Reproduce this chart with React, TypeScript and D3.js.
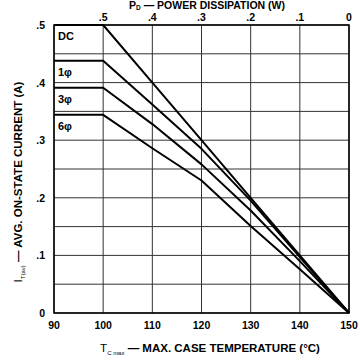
import React from "react";
import * as d3 from "d3";

const temps = [100, 110, 120, 130, 140, 150];
const dcValues = [0.5, 0.4, 0.3, 0.2, 0.1, 0];
const phase1Values = [0.438, 0.362, 0.285, 0.195, 0.097, 0];
const phase3Values = [0.391, 0.328, 0.258, 0.178, 0.09, 0];
const phase6Values = [0.344, 0.286, 0.23, 0.151, 0.076, 0];
const startTemp = 90;
const seriesNames = ["DC", "1\u03C6", "3\u03C6", "6\u03C6"];
const xTicks = [90, 100, 110, 120, 130, 140, 150];
const yTicks = [0, 0.1, 0.2, 0.3, 0.4, 0.5];
const yTickLabels = ["0", ".1", ".2", ".3", ".4", ".5"];
const yGrid = [0, 0.05, 0.1, 0.15, 0.2, 0.25, 0.3, 0.35, 0.4, 0.45, 0.5];
const topTicks = [0.5, 0.4, 0.3, 0.2, 0.1, 0];
const topTickLabels = [".5", ".4", ".3", ".2", ".1", "0"];

export default function App() {
  const left = 54, right = 349, top = 25, bottom = 313;
  const x = d3.scaleLinear().domain([90, 150]).range([left, right]);
  const y = d3.scaleLinear().domain([0, 0.5]).range([bottom, top]);
  const xp = d3.scaleLinear().domain([0.5, 0]).range([x(100), x(150)]);

  const allSeries = [dcValues, phase1Values, phase3Values, phase6Values];
  const line = d3
    .line<[number, number]>()
    .x((d) => x(d[0]))
    .y((d) => y(d[1]));

  const font = "'Liberation Sans', Arial, sans-serif";

  return (
    <svg
      width={360}
      height={360}
      style={{ position: "absolute", left: 0, top: 0, background: "#fff" }}
      fontFamily={font}
      fontWeight="bold"
    >
      <rect x={0} y={0} width={360} height={360} fill="#fff" />
      {/* grid */}
      {xTicks.map((t) => (
        <line key={"vx" + t} x1={x(t)} x2={x(t)} y1={top} y2={bottom} stroke="#333" strokeWidth={1} />
      ))}
      {yGrid.map((v) => (
        <line key={"hy" + v} x1={left} x2={right} y1={y(v)} y2={y(v)} stroke="#333" strokeWidth={1} />
      ))}
      {/* frame */}
      <rect x={left} y={top} width={right - left} height={bottom - top} fill="none" stroke="#000" strokeWidth={1.5} />

      {/* curves */}
      {allSeries.map((vals, i) => {
        const pts: [number, number][] = [[startTemp, vals[0]], ...temps.map((t, j) => [t, vals[j]] as [number, number])];
        return <path key={i} d={line(pts) || ""} fill="none" stroke="#000" strokeWidth={2} strokeLinejoin="round" />;
      })}

      {/* series labels */}
      {allSeries.map((vals, i) => (
        <text key={"lbl" + i} x={58} y={y(vals[0]) + 15} fontSize={11} fill="#000">
          {seriesNames[i]}
        </text>
      ))}

      {/* left ticks */}
      {yTicks.map((v, i) => (
        <text key={"yt" + v} x={45} y={y(v) + 4} fontSize={10.5} textAnchor="end" fill="#000">
          {yTickLabels[i]}
        </text>
      ))}
      {/* bottom ticks */}
      {xTicks.map((t) => (
        <text key={"xt" + t} x={x(t)} y={329} fontSize={10.5} textAnchor="middle" fill="#000">
          {t}
        </text>
      ))}
      {/* top ticks */}
      {topTicks.map((p, i) => (
        <text key={"tt" + p} x={xp(p)} y={21} fontSize={10.5} textAnchor="middle" fill="#000">
          {topTickLabels[i]}
        </text>
      ))}

      {/* titles */}
      <text x={207} y={8.5} fontSize={10.5} textAnchor="middle" fill="#000">
        <tspan>P</tspan>
        <tspan fontSize={6.5} dy={1}>D</tspan>
        <tspan dy={-1}> — POWER DISSIPATION (W)</tspan>
      </text>
      <text x={210} y={352} fontSize={11.5} textAnchor="middle" fill="#000">
        <tspan fontWeight="normal">T</tspan>
        <tspan fontSize={6} dy={3} fontWeight="normal">C max</tspan>
        <tspan dy={-3}> — MAX. CASE TEMPERATURE (°C)</tspan>
      </text>
      <text transform={`translate(22, 182) rotate(-90)`} fontSize={11.5} textAnchor="middle" fill="#000">
        <tspan fontWeight="normal">I</tspan>
        <tspan fontSize={6} dy={3} fontWeight="normal">T(av)</tspan>
        <tspan dy={-3}> — AVG. ON-STATE CURRENT (A)</tspan>
      </text>
    </svg>
  );
}
